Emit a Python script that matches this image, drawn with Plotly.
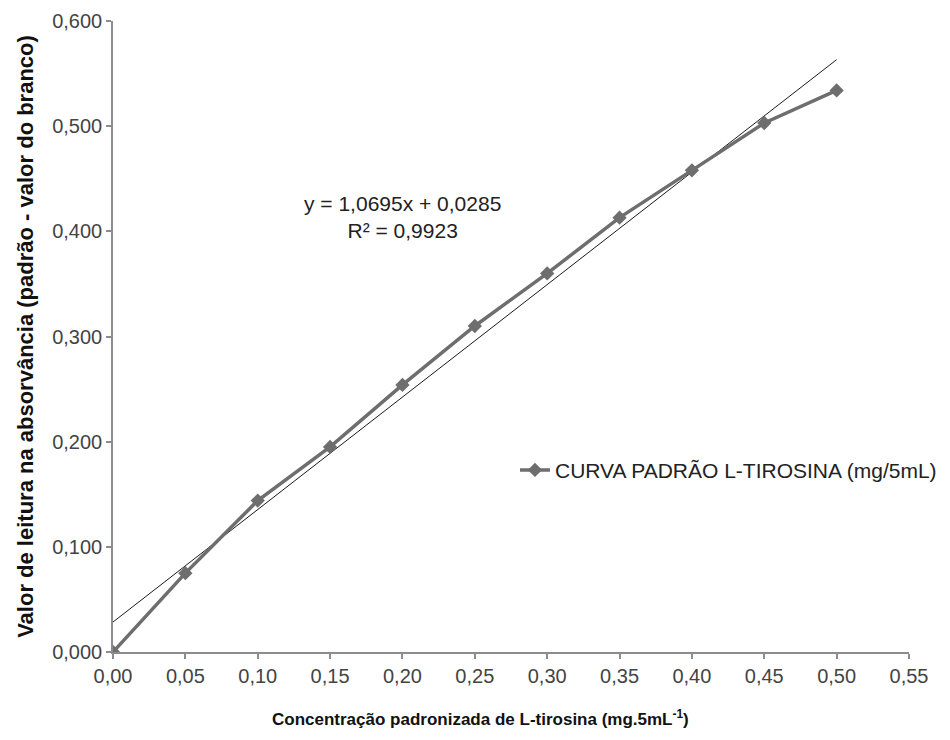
import plotly.graph_objects as go

# Standard curve for L-tyrosine
concentracao = [0.00, 0.05, 0.10, 0.15, 0.20, 0.25, 0.30, 0.35, 0.40, 0.45, 0.50]
absorvancia = [0.000, 0.075, 0.144, 0.195, 0.254, 0.310, 0.360, 0.413, 0.458, 0.503, 0.534]

# Linear trendline coefficients
inclinacao = 1.0695
intercepto = 0.0285
r2 = 0.9923

x_ticks = [0.00, 0.05, 0.10, 0.15, 0.20, 0.25, 0.30, 0.35, 0.40, 0.45, 0.50, 0.55]
y_ticks = [0.0, 0.1, 0.2, 0.3, 0.4, 0.5, 0.6]

trend_x = [concentracao[0], concentracao[-1]]
trend_y = [inclinacao * v + intercepto for v in trend_x]

font = "Liberation Sans, Arial, sans-serif"

fig = go.Figure()
fig.add_trace(go.Scatter(
    x=trend_x, y=trend_y, mode="lines",
    line=dict(color="#1a1a1a", width=1),
    showlegend=False, hoverinfo="skip",
))
fig.add_trace(go.Scatter(
    x=concentracao, y=absorvancia, mode="lines+markers",
    name="CURVA PADRÃO L-TIROSINA (mg/5mL)",
    line=dict(color="#6e6e6e", width=3.5),
    marker=dict(symbol="diamond", size=11, color="#6e6e6e"),
))

# Trendline equation
fig.add_annotation(
    x=0.2, y=0.414, xref="x", yref="y",
    text=f"y = {inclinacao:.4f}x + {intercepto:.4f}<br>R² = {r2:.4f}".replace(".", ","),
    showarrow=False, font=dict(family=font, size=21, color="#222222"),
    align="center",
)

# X-axis title, placed slightly left of the plot centre
fig.add_annotation(
    x=0.462, y=-0.105, xref="paper", yref="paper",
    xanchor="center", yanchor="middle", showarrow=False,
    text="<b>Concentração padronizada de L-tirosina (mg.5mL<sup>-1</sup>)</b>",
    font=dict(family=font, size=17, color="#111111"),
)

axis_common = dict(
    showgrid=False, zeroline=False, showline=True,
    linecolor="#8c8c8c", linewidth=1.5,
    ticks="outside", ticklen=5, tickcolor="#8c8c8c", tickwidth=1.5,
    tickfont=dict(family=font, size=20, color="#444444"),
)

fig.update_layout(
    width=950, height=740,
    margin=dict(l=113, r=41, t=21, b=88, autoexpand=False),
    paper_bgcolor="white", plot_bgcolor="white",
    separators=",.",
    font=dict(family=font),
    xaxis=dict(
        range=[0, 0.55], tickvals=x_ticks, tickformat=".2f",
        **axis_common,
    ),
    yaxis=dict(
        range=[0, 0.6], tickvals=y_ticks, tickformat=".3f",
        title=dict(text="<b>Valor de leitura na absorvância (padrão - valor do branco)</b>",
                   font=dict(family=font, size=22, color="#111111"), standoff=12),
        **axis_common,
    ),
    legend=dict(
        x=0.505, y=0.288, xanchor="left", yanchor="middle",
        font=dict(family=font, size=21, color="#222222"),
        bgcolor="rgba(0,0,0,0)", itemwidth=30,
    ),
)

fig.write_html("out.html")
